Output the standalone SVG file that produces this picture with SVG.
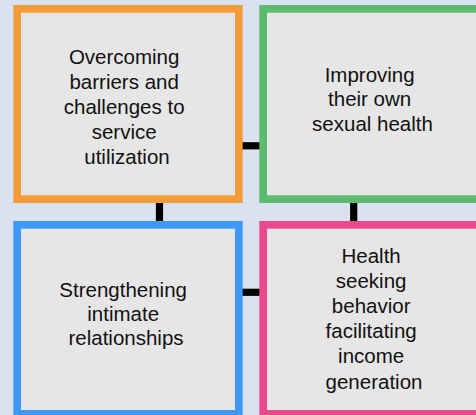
<svg xmlns="http://www.w3.org/2000/svg" width="476" height="415" viewBox="0 0 476 415">
  <style>
    .box { fill: #e6e6e6; stroke-width: 7.7; }
    .label { font-family: "Liberation Sans", Arial, sans-serif; font-size: 20.5px; fill: #111111; text-anchor: middle; }
    .link { stroke: #000000; stroke-width: 7.2; fill: none; }
  </style>
  <rect x="0" y="0" width="476" height="415" fill="#dae2ef"/>

  <g id="connectors">
    <line class="link" x1="242" y1="145.8" x2="260" y2="145.8"/>
    <line class="link" x1="242" y1="292.3" x2="260" y2="292.3"/>
    <line class="link" x1="159.5" y1="202" x2="159.5" y2="222"/>
    <line class="link" x1="353.7" y1="202" x2="353.7" y2="222"/>
  </g>

  <g id="barriers">
    <rect class="box" x="17.15" y="8.85" width="221.7" height="190.3" stroke="#f39c38"/>
    <text class="label">
      <tspan x="127" y="63.5">Overcoming</tspan>
      <tspan x="127" y="88.5">barriers and</tspan>
      <tspan x="127" y="113.5">challenges to</tspan>
      <tspan x="127" y="138.5">service</tspan>
      <tspan x="127" y="163.5">utilization</tspan>
    </text>
  </g>

  <g id="sexual-health">
    <rect class="box" x="263.15" y="8.85" width="221.7" height="190.3" stroke="#5dbb70"/>
    <text class="label">
      <tspan x="372.5" y="81.5">Improving</tspan>
      <tspan x="372.5" y="106">their own</tspan>
      <tspan x="372.5" y="130.5">sexual health</tspan>
    </text>
  </g>

  <g id="relationships">
    <rect class="box" x="17.15" y="224.85" width="221.7" height="189" stroke="#3f97f6"/>
    <text class="label">
      <tspan x="126" y="296.8">Strengthening</tspan>
      <tspan x="126" y="321">intimate</tspan>
      <tspan x="126" y="345.2">relationships</tspan>
    </text>
  </g>

  <g id="income">
    <rect class="box" x="263.15" y="224.85" width="221.7" height="189" stroke="#ea4a8c"/>
    <text class="label">
      <tspan x="374" y="263.3">Health</tspan>
      <tspan x="374" y="288.3">seeking</tspan>
      <tspan x="374" y="313.3">behavior</tspan>
      <tspan x="374" y="338.3">facilitating</tspan>
      <tspan x="374" y="363.3">income</tspan>
      <tspan x="374" y="388.8">generation</tspan>
    </text>
  </g>
</svg>
